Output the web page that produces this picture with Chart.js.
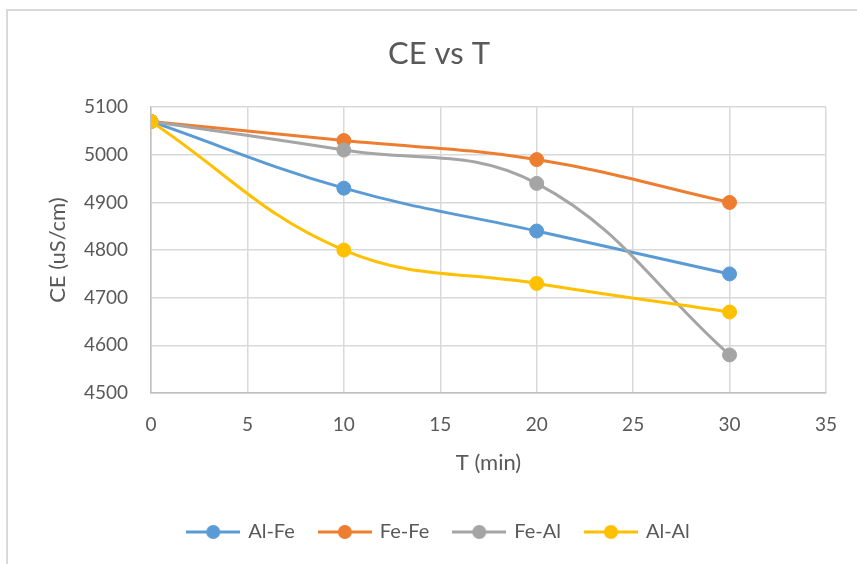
<!DOCTYPE html>
<html>
<head>
<meta charset="utf-8">
<script src="https://cdn.jsdelivr.net/npm/chart.js@4.4.0/dist/chart.umd.min.js"></script>
<style>
  html, body { margin: 0; padding: 0; background: #fff; }
  #wrap { position: relative; width: 857px; height: 564px; overflow: hidden; }
  #frame { position: absolute; left: 6px; top: 9px; width: 900px; height: 600px;
           border-left: 2px solid #d9d9d9; border-top: 2px solid #d9d9d9; }
  #myChart { position: absolute; left: 0; top: 0; }
</style>
</head>
<body>
<div id="wrap">
  <div id="frame"></div>
  <canvas id="myChart" width="857" height="564"></canvas>
</div>
<script>
// datos
const tiempos = [0, 10, 20, 30];
const alFe = [5070, 4930, 4840, 4750];
const feFe = [5070, 5030, 4990, 4900];
const feAl = [5070, 5010, 4940, 4580];
const alAl = [5070, 4800, 4730, 4670];
const series = ['Al-Fe', 'Fe-Fe', 'Fe-Al', 'Al-Al'];
const colores = ['#5B9BD5', '#ED7D31', '#A5A5A5', '#FFC000'];
const xTicks = [0, 5, 10, 15, 20, 25, 30, 35];
const yTicks = [4500, 4600, 4700, 4800, 4900, 5000, 5100];

const fuente = 'Lato, "Open Sans", sans-serif';
const gris = '#595959';

function puntos(valores) {
  return tiempos.map((t, i) => ({x: t, y: valores[i]}));
}

// icono de leyenda: linea con circulo al centro
function iconoLeyenda(color) {
  const c = document.createElement('canvas');
  c.width = 54; c.height = 16;
  const g = c.getContext('2d');
  g.strokeStyle = color;
  g.lineWidth = 3;
  g.beginPath(); g.moveTo(0, 8); g.lineTo(54, 8); g.stroke();
  g.fillStyle = color;
  g.beginPath(); g.arc(27, 8, 7, 0, Math.PI * 2); g.fill();
  return c;
}

const valores = [alFe, feFe, feAl, alAl];
const datasets = series.map((nombre, i) => ({
  label: nombre,
  data: puntos(valores[i]),
  borderColor: colores[i],
  backgroundColor: colores[i],
  borderWidth: 3,
  pointRadius: 7,
  pointBorderWidth: 1,
  pointHoverRadius: 7,
  tension: 0.4,
  showLine: true,
  order: series.length - i
}));

const ctx = document.querySelector('#myChart').getContext('2d');
const myChart = new Chart(ctx, {
  type: 'scatter',
  data: { datasets: datasets },
  options: {
    responsive: false,
    animation: false,
    layout: { padding: { left: 21, right: 0, top: 0, bottom: 12 } },
    plugins: {
      title: {
        display: true,
        text: 'CE vs T',
        color: gris,
        font: { family: fuente, size: 31, weight: 'normal' },
        padding: { top: 35, bottom: 35 }
      },
      legend: {
        position: 'bottom',
        labels: {
          color: gris,
          font: { family: fuente, size: 20 },
          usePointStyle: true,
          pointStyleWidth: 50,
          padding: 25,
          generateLabels: function (chart) {
            return chart.data.datasets.map((ds, i) => ({
              text: ds.label,
              fillStyle: ds.borderColor,
              strokeStyle: ds.borderColor,
              lineWidth: 0,
              pointStyle: iconoLeyenda(ds.borderColor),
              fontColor: gris,
              hidden: false,
              datasetIndex: i
            }));
          }
        }
      },
      tooltip: { enabled: false }
    },
    scales: {
      x: {
        type: 'linear',
        min: 0,
        max: 35,
        afterBuildTicks: function (scale) { scale.ticks = xTicks.map(v => ({value: v})); },
        afterFit: function (scale) { scale.height = 104; },
        ticks: { color: gris, font: { family: fuente, size: 19 }, padding: 20 },
        grid: { color: '#d9d9d9', lineWidth: 1.5, drawTicks: false },
        border: { color: '#bfbfbf', width: 1.5 },
        title: {
          display: true,
          text: 'T (min)',
          color: gris,
          font: { family: fuente, size: 22 },
          padding: { top: 0, bottom: 21 }
        }
      },
      y: {
        type: 'linear',
        min: 4500,
        max: 5100,
        afterBuildTicks: function (scale) { scale.ticks = yTicks.map(v => ({value: v})); },
        afterFit: function (scale) { scale.width = 130; },
        ticks: {
          color: gris,
          font: { family: fuente, size: 19 },
          padding: 23,
          callback: function (v) { return String(v); }
        },
        grid: { color: '#d9d9d9', lineWidth: 1.5, drawTicks: false },
        border: { color: '#bfbfbf', width: 1.5 },
        title: {
          display: true,
          text: 'CE (uS/cm)',
          color: gris,
          font: { family: fuente, size: 22 },
          padding: { top: 24, bottom: 0 }
        }
      },
      // eje vacio a la derecha para dejar el margen del area de trazado
      yRight: {
        type: 'linear',
        position: 'right',
        afterFit: function (scale) { scale.width = 27; },
        ticks: { display: false },
        grid: { display: false, drawTicks: false },
        border: { display: false }
      }
    }
  }
});
</script>
</body>
</html>
